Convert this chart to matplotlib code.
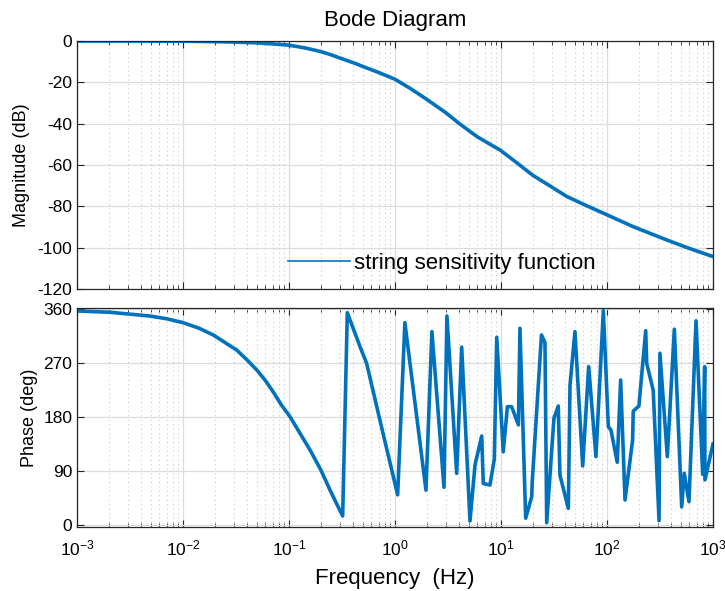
import matplotlib
matplotlib.use('AGG')
import matplotlib.pyplot as plt
from matplotlib.lines import Line2D
from matplotlib.ticker import LogLocator, NullFormatter

plt.rcParams['font.family'] = ['Liberation Sans', 'DejaVu Sans']
plt.rcParams['axes.unicode_minus'] = False

# magnitude curve
mag_freq = [0.001, 0.003, 0.01, 0.02, 0.03, 0.05, 0.07, 0.1, 0.14, 0.196, 0.244,
            0.325, 0.42, 0.502, 0.7, 1.0, 1.4, 1.99, 3.0, 4.1, 6.0, 9.9, 14.0, 20.0,
            30.0, 42.0, 65.0, 100.0, 176.0, 368.0, 600.0, 1000.0]
mag_db = [0.0, 0.0, -0.1, -0.3, -0.5, -0.9, -1.4, -2.0, -3.3, -5.0, -6.5,
          -8.8, -10.8, -12.4, -15.2, -18.5, -23.0, -28.2, -34.6, -40.2, -46.4, -52.9, -58.8, -65.0,
          -70.6, -75.3, -79.8, -84.1, -89.8, -96.3, -100.4, -104.3]

# phase curve
ph_freq = [0.001, 0.00205, 0.00489, 0.007, 0.01, 0.014, 0.0193, 0.0322, 0.04, 0.0496,
           0.06, 0.0711, 0.085, 0.102, 0.13, 0.158, 0.2, 0.244, 0.28, 0.321,
           0.355, 0.468, 0.54, 0.75, 1.06, 1.24, 1.96, 2.23, 2.9, 3.09, 3.82, 4.26, 5.1, 5.69,
           6.58, 6.81, 7.87, 8.65, 9.12, 10.5, 11.5, 12.6, 14.6, 15.1, 17.1, 19.5,
           19.7, 24.1, 26.0, 27.0, 31.6, 34.7, 36.0, 43.2, 44.8, 49.9, 59.0, 67.2,
           78.7, 92.4, 103.0, 109.0, 125.0, 134.6, 148.0, 174.6, 177.0, 200.0,
           232.0, 237.0, 273.0, 310.0, 316.0, 371.0, 432.0, 507.0, 536.0, 594.0,
           692.0, 800.0, 835.0, 840.0, 1000.0]
ph_deg = [357.5, 355.3, 349, 344.5, 338, 329, 317.4, 292, 276, 259,
          241, 222, 200, 181, 150, 125, 91.5, 58, 36, 14.7,
          354.7, 297.8, 270, 162, 50, 338, 58, 323, 62.7, 349, 86, 297, 6.3, 100,
          148.5, 69, 66.5, 109.5, 313.5, 122, 197.5, 197.5, 167, 328.6, 11, 47,
          70.4, 317.4, 304.5, 3.5, 178, 198.6, 83, 27.5, 233.8, 323, 98.3, 264.4,
          114, 358, 164, 158.5, 104.5, 242, 41.5, 141.8, 190, 198.6,
          324.5, 270, 225, 7, 286.8, 114, 327, 30, 86, 38.6,
          341, 84.4, 264.4, 75, 135]

blue = '#0072BD'

fig = plt.figure(figsize=(7.25, 5.91), dpi=100)
ax1 = fig.add_axes([0.1062, 0.511, 0.8772, 0.4196])
ax2 = fig.add_axes([0.1062, 0.1083, 0.8772, 0.3711])

ax1.semilogx(mag_freq, mag_db, color=blue, lw=2.6)
ax2.semilogx(ph_freq, ph_deg, color=blue, lw=2.6)

for ax in (ax1, ax2):
    ax.set_xlim(1e-3, 1e3)
    ax.xaxis.set_major_locator(LogLocator(base=10, numticks=10))
    ax.xaxis.set_minor_locator(LogLocator(base=10, subs=range(2, 10), numticks=100))
    ax.xaxis.set_minor_formatter(NullFormatter())
    ax.grid(True, which='major', color='#dcdcdc', lw=0.9, ls='-')
    ax.grid(True, which='minor', axis='x', color='#c8c8c8', lw=0.8, ls=(0, (1, 3)))
    ax.set_axisbelow(True)
    ax.tick_params(which='both', direction='in', top=True, right=True,
                   labelsize=12.5, colors='#262626', labelcolor='black')
    ax.tick_params(which='major', length=5)
    ax.tick_params(which='minor', length=3)
    for sp in ax.spines.values():
        sp.set_color('#262626')
        sp.set_linewidth(0.9)

ax1.set_ylim(-120, 0)
ax1.set_yticks([-120, -100, -80, -60, -40, -20, 0])
ax1.tick_params(labelbottom=False)
ax1.set_ylabel('Magnitude (dB)', fontsize=13, labelpad=5)
ax1.set_title('Bode Diagram', fontsize=16, pad=11)

ax2.set_ylim(-3.7, 363)
ax2.set_yticks([0, 90, 180, 270, 360])
ax2.tick_params(axis='x', which='major', pad=8)
ax2.set_ylabel('Phase (deg)', fontsize=13, labelpad=4)
ax2.set_xlabel('Frequency  (Hz)', fontsize=16, labelpad=7)

handle = Line2D([], [], color=blue, lw=1.2)
ax1.legend([handle], ['string sensitivity function'], frameon=False, fontsize=16,
           loc='lower left', bbox_to_anchor=(0.30, -0.02), handlelength=2.8,
           handletextpad=0.2)

fig.savefig('out.png')
plt.close(fig)
